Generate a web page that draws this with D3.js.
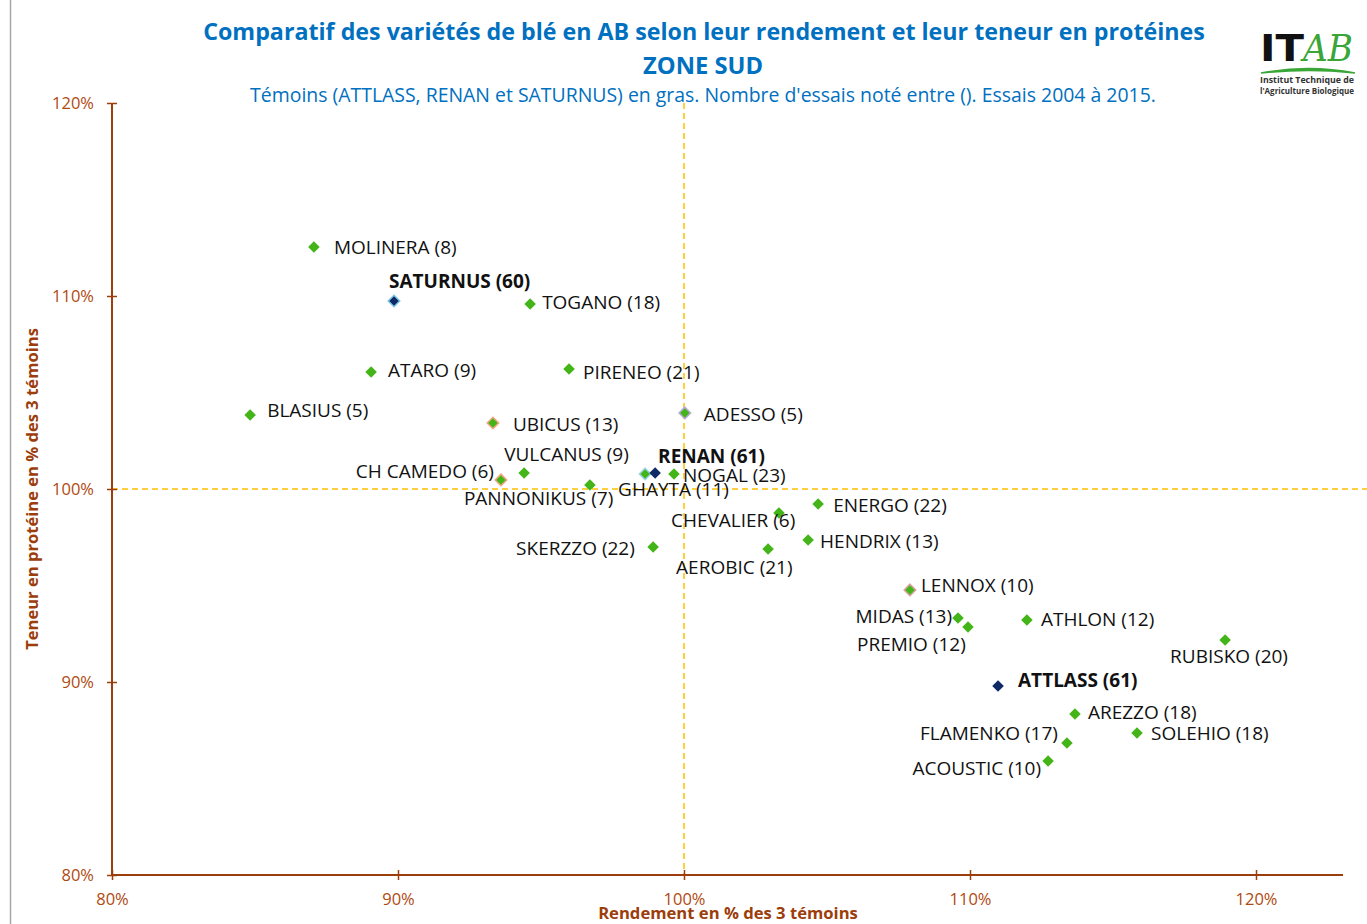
<!DOCTYPE html>
<html><head><meta charset="utf-8">
<script src="https://cdn.jsdelivr.net/npm/d3@7"></script>
<style>body{margin:0;background:#fff;} svg{display:block;}</style>
</head><body>
<svg id="c" width="1367" height="924"></svg>
<script>
// ---- data ----
const varieties = ["MOLINERA (8)","SATURNUS (60)","TOGANO (18)","ATARO (9)","PIRENEO (21)","BLASIUS (5)","UBICUS (13)","ADESSO (5)","CH CAMEDO (6)","VULCANUS (9)","PANNONIKUS (7)","GHAYTA (11)","RENAN (61)","NOGAL (23)","CHEVALIER (6)","ENERGO (22)","HENDRIX (13)","SKERZZO (22)","AEROBIC (21)","LENNOX (10)","MIDAS (13)","PREMIO (12)","ATHLON (12)","RUBISKO (20)","ATTLASS (61)","AREZZO (18)","SOLEHIO (18)","FLAMENKO (17)","ACOUSTIC (10)"];
const rendement = [87.06,89.86,94.62,89.06,95.98,84.83,93.32,100.03,93.60,94.41,96.71,98.64,98.99,99.65,103.32,104.69,104.34,98.92,102.94,107.90,109.58,109.93,111.99,118.92,110.98,113.67,115.84,113.39,112.73];
const proteines = [112.54,109.74,109.59,106.06,106.22,103.83,103.42,103.94,100.47,100.83,100.21,100.78,100.83,100.78,98.76,99.22,97.36,97.00,96.89,94.77,93.32,92.85,93.21,92.18,89.79,88.34,87.36,86.84,85.91];
const temoins = ["SATURNUS (60)","RENAN (61)","ATTLASS (61)"];
const xTicks = [80,90,100,110,120];
const yTicks = [80,90,100,110,120];

// ---- layout / styles (not data) ----
const W=1367,H=924;
const x = d3.scaleLinear().domain([80,120]).range([112,1256]);
const y = d3.scaleLinear().domain([80,120]).range([875,103]);
const axisCol="#9c3d0c", tickCol="#b04a10";
const svg=d3.select("#c");
const font="'Open Sans', sans-serif";

function fitWidth(sel, target){
  const n = sel.node();
  const fs = parseFloat(n.style.fontSize);
  const w = n.getComputedTextLength();
  sel.style("font-size", (fs*target/w).toFixed(2)+"px");
  return sel;
}

// outer chart border
svg.append("line").attr("x1",10.5).attr("x2",10.5).attr("y1",0).attr("y2",H).attr("stroke","#a6a6a6").attr("stroke-width",1.5);

// reference dashed lines
svg.append("line").attr("x1",x(100)).attr("x2",x(100)).attr("y1",y(120)).attr("y2",y(80))
  .attr("stroke","#ffc000").attr("stroke-width",1.5).attr("stroke-dasharray","6,4");
svg.append("line").attr("x1",x(80)).attr("x2",W).attr("y1",y(100)).attr("y2",y(100))
  .attr("stroke","#ffc000").attr("stroke-width",1.5).attr("stroke-dasharray","6,4");

// axes
const xAxis = d3.axisBottom(x).tickValues(xTicks).tickFormat(d=>d+"%").tickSizeInner(0).tickSizeOuter(0);
const gx = svg.append("g").attr("transform",`translate(0,${y(80)})`).call(xAxis);
gx.select(".domain").attr("d",`M${x(80)},0H1343`).attr("stroke",axisCol).attr("stroke-width",2);
gx.selectAll(".tick line").remove();
gx.selectAll(".tick").append("line").attr("y1",-5).attr("y2",5).attr("stroke",axisCol).attr("stroke-width",1.5);
gx.selectAll(".tick text").attr("y",18).attr("dy","0.71em").attr("fill",tickCol).style("font-family",font).style("font-size","16.5px");

const yAxis = d3.axisLeft(y).tickValues(yTicks).tickFormat(d=>d+"%").tickSizeInner(0).tickSizeOuter(0);
const gy = svg.append("g").attr("transform",`translate(${x(80)},0)`).call(yAxis);
gy.select(".domain").attr("d",`M0,${y(120)}V${y(80)}`).attr("stroke",axisCol).attr("stroke-width",2);
gy.selectAll(".tick line").remove();
gy.selectAll(".tick").append("line").attr("x1",-5).attr("x2",5).attr("stroke",axisCol).attr("stroke-width",1.5);
gy.selectAll(".tick text").attr("x",-18).attr("fill",tickCol).style("font-family",font).style("font-size","16.5px");

// axis titles
fitWidth(svg.append("text").attr("x",728).attr("y",919).attr("text-anchor","middle").attr("fill",axisCol)
  .style("font-family",font).style("font-size","16px").style("font-weight","bold").text("Rendement en % des 3 témoins"),260);
fitWidth(svg.append("text").attr("transform",`translate(38,489) rotate(-90)`).attr("text-anchor","middle").attr("fill",axisCol)
  .style("font-family",font).style("font-size","16px").style("font-weight","bold").text("Teneur en protéine en % des 3 témoins"),322);

// titles
fitWidth(svg.append("text").attr("x",704).attr("y",40).attr("text-anchor","middle").attr("fill","#0070c0")
  .style("font-family",font).style("font-size","22px").style("font-weight","bold")
  .text("Comparatif des variétés de blé en AB selon leur rendement et leur teneur en protéines"),1002);
fitWidth(svg.append("text").attr("x",703).attr("y",74).attr("text-anchor","middle").attr("fill","#0070c0")
  .style("font-family",font).style("font-size","22px").style("font-weight","bold").text("ZONE SUD"),120);
fitWidth(svg.append("text").attr("x",703).attr("y",102).attr("text-anchor","middle").attr("fill","#0070c0")
  .style("font-family",font).style("font-size","17px")
  .text("Témoins (ATTLASS, RENAN et SATURNUS) en gras.  Nombre d'essais noté entre (). Essais 2004 à 2015."),906);

// logo
const lg = svg.append("g").attr("transform","translate(1259,20)");
lg.append("text").attr("x",1).attr("y",41).style("font-family","'DejaVu Sans', sans-serif").style("font-weight","bold").style("font-size","38px").attr("fill","#111").attr("textLength",44).attr("lengthAdjust","spacingAndGlyphs").text("IT");
lg.append("text").attr("x",44).attr("y",41).style("font-family","'DejaVu Serif', serif").style("font-style","italic").style("font-size","38px").attr("fill","#3aa637").attr("textLength",50).attr("lengthAdjust","spacingAndGlyphs").text("AB");
lg.append("path").attr("d","M2,53 Q50,44 96,53 Q50,48 2,53Z").attr("fill","#3aa637").attr("stroke","#3aa637").attr("stroke-width",1.5);
lg.append("text").attr("x",1).attr("y",63).style("font-family",font).style("font-size","8px").style("font-weight","bold").attr("fill","#333").attr("textLength",94).attr("lengthAdjust","spacingAndGlyphs").text("Institut Technique de");
lg.append("text").attr("x",1).attr("y",74).style("font-family",font).style("font-size","8px").style("font-weight","bold").attr("fill","#333").attr("textLength",94).attr("lengthAdjust","spacingAndGlyphs").text("l'Agriculture Biologique");

// marker outlines (style)
const outline = {"UBICUS (13)":"#f4a582","CH CAMEDO (6)":"#f4a582","ADESSO (5)":"#b7a9d6","LENNOX (10)":"#d9a0a0","GHAYTA (11)":"#9fd3e6","SATURNUS (60)":"#7ec8e3"};
// label placement (style): [dx, dy, anchor]
const lab = {
 "MOLINERA (8)":[20,0,"start"],"SATURNUS (60)":[-5,-20,"start"],"TOGANO (18)":[12,-2,"start"],
 "ATARO (9)":[17,-2,"start"],"PIRENEO (21)":[14,3,"start"],"BLASIUS (5)":[17,-5,"start"],
 "UBICUS (13)":[20,1,"start"],"ADESSO (5)":[19,1,"start"],"CH CAMEDO (6)":[-7,-9,"end"],
 "VULCANUS (9)":[-20,-19,"start"],"PANNONIKUS (7)":[-126,13,"start"],"GHAYTA (11)":[-27,15,"start"],
 "RENAN (61)":[3,-17,"start"],"NOGAL (23)":[9,1,"start"],"CHEVALIER (6)":[-108,7,"start"],
 "ENERGO (22)":[15,1,"start"],"HENDRIX (13)":[12,1,"start"],"SKERZZO (22)":[-137,1,"start"],
 "AEROBIC (21)":[-92,18,"start"],"LENNOX (10)":[11,-5,"start"],"MIDAS (13)":[-6,-2,"end"],
 "PREMIO (12)":[-111,17,"start"],"ATHLON (12)":[14,-1,"start"],"RUBISKO (20)":[-55,16,"start"],
 "ATTLASS (61)":[20,-6,"start"],"AREZZO (18)":[13,-2,"start"],"SOLEHIO (18)":[14,0,"start"],
 "FLAMENKO (17)":[-9,-10,"end"],"ACOUSTIC (10)":[-7,7,"end"]
};

const pts = varieties.map((v,i)=>({name:v,x:rendement[i],y:proteines[i],t:temoins.includes(v)}));
const diamond = d3.symbol().type(d3.symbolDiamond2).size(85);
const g = svg.append("g");
g.selectAll("path.pt").data(pts).join("path").attr("class","pt")
  .attr("transform",d=>`translate(${x(d.x)},${y(d.y)})`)
  .attr("d",diamond)
  .attr("fill",d=>d.t?"#0d2a66":"#44b518")
  .attr("stroke",d=>outline[d.name]||"none").attr("stroke-width",1.5);

g.selectAll("text.lbl").data(pts).join("text").attr("class","lbl")
  .attr("x",d=>x(d.x)+lab[d.name][0]).attr("y",d=>y(d.y)+lab[d.name][1])
  .attr("dy","0.35em").attr("text-anchor",d=>lab[d.name][2])
  .attr("fill","#111")
  .style("font-family",font).style("font-size","19px")
  .style("font-weight",d=>d.t?"bold":"normal")
  .text(d=>d.name);
</script>
</body></html>
